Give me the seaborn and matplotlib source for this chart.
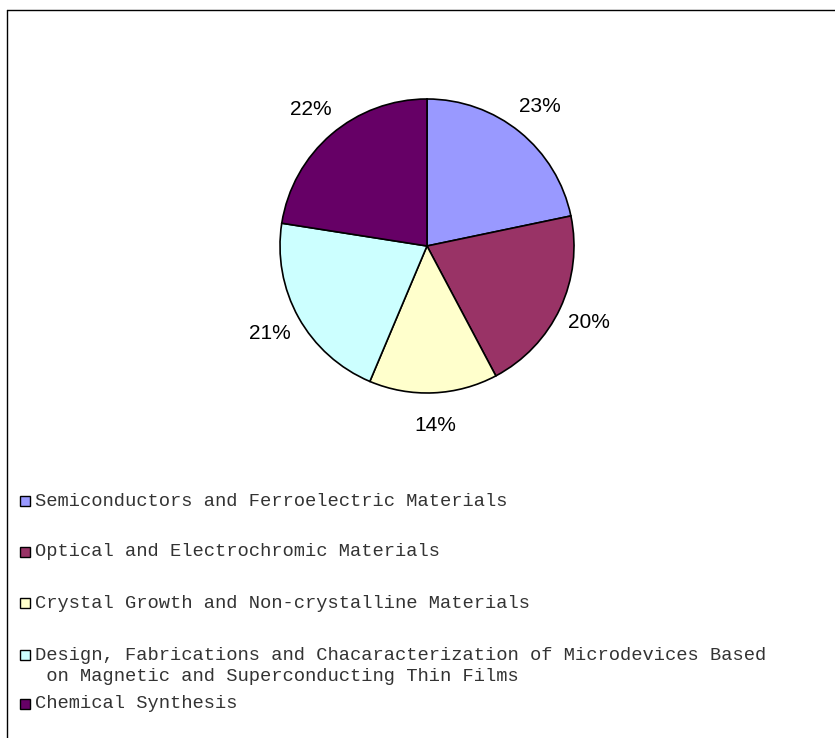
import textwrap
import seaborn as sns
import matplotlib.pyplot as plt
from matplotlib.lines import Line2D
from matplotlib.patches import Rectangle

# slice shares as measured from the wedge angles, labels as printed
categories = [
    "Semiconductors and Ferroelectric Materials",
    "Optical and Electrochromic Materials",
    "Crystal Growth and Non-crystalline Materials",
    "Design, Fabrications and Chacaracterization of Microdevices Based on Magnetic and Superconducting Thin Films",
    "Chemical Synthesis",
]
shares = [21.7, 20.5, 14.1, 21.1, 22.5]
pct_labels = ["23%", "20%", "14%", "21%", "22%"]
colors = ["#9999FF", "#993366", "#FFFFCC", "#CCFFFF", "#660066"]

sns.set_theme(style="white")
plt.rcParams['font.family'] = ['Liberation Sans', 'DejaVu Sans']

W, H = 835, 738
fig = plt.figure(figsize=(W / 100, H / 100), dpi=100)

# pie axes, square in pixels
cx, cy, R = 427, 246, 147
ax = fig.add_axes([(cx - R) / W, (H - cy - R) / H, 2 * R / W, 2 * R / H])
wedges, texts = ax.pie(shares, colors=sns.color_palette(colors), startangle=90,
                       counterclock=False, labels=pct_labels, labeldistance=1.22,
                       wedgeprops=dict(edgecolor='black', linewidth=1.2),
                       textprops=dict(fontsize=15, color='black'))
for t in texts:
    t.set_ha('center')
ax.set_xlim(-1, 1)
ax.set_ylim(-1, 1)
ax.axis('off')

# legend drawn by hand (Excel-like stacked entries)
row_y = [501, 552, 603, 666, 704]
for name, col, y in zip(categories, colors, row_y):
    lines = textwrap.wrap(name, 65)
    label = lines[0] + "".join("\n " + l for l in lines[1:])
    sq_y = y if len(lines) == 1 else 655
    fig.add_artist(Rectangle((20 / W, 1 - (sq_y + 5) / H), 10 / W, 10 / H,
                             transform=fig.transFigure, facecolor=col,
                             edgecolor='black', linewidth=1))
    fig.text(35 / W, 1 - y / H, label, family='Liberation Mono', fontsize=13.5,
             va='center', ha='left', color='#333333', linespacing=1.3)

# chart border (left and top edges visible)
fig.add_artist(Line2D([7 / W, 7 / W], [0, 1 - 10 / H], color='black', linewidth=1))
fig.add_artist(Line2D([7 / W, 1], [1 - 10 / H, 1 - 10 / H], color='black', linewidth=1))

fig.savefig("out.png", dpi=100, facecolor='white')
